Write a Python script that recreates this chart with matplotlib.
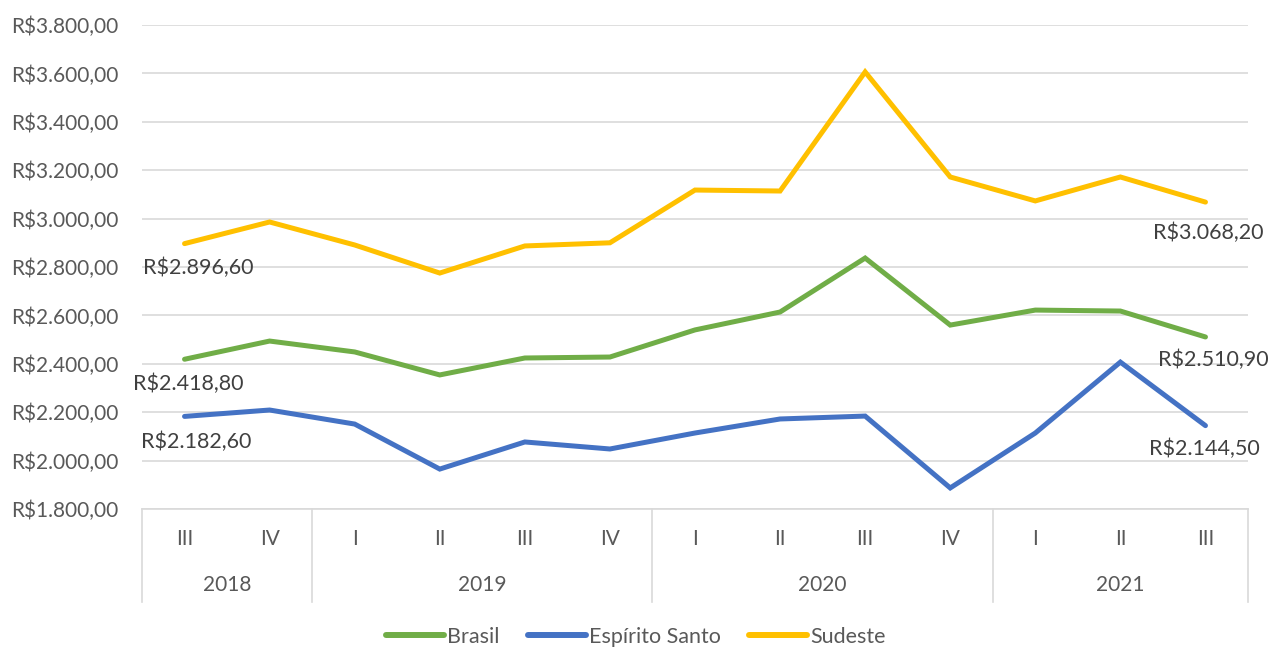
import numpy as np
import matplotlib
matplotlib.use("Agg")
import matplotlib.pyplot as plt
from matplotlib.ticker import FuncFormatter
import matplotlib.transforms as mtransforms

plt.rcParams['font.family'] = ['Lato', 'DejaVu Sans']

quarters = ['III', 'IV', 'I', 'II', 'III', 'IV', 'I', 'II', 'III', 'IV', 'I', 'II', 'III']
years = ['2018', '2019', '2020', '2021']
year_counts = [2, 4, 4, 3]

brasil = [2418.8, 2494, 2449, 2354, 2424, 2428, 2540, 2614, 2837, 2560, 2622, 2618, 2510.9]
espirito_santo = [2182.6, 2209, 2151, 1965, 2077, 2048, 2114, 2172, 2184, 1887, 2114, 2407, 2144.5]
sudeste = [2896.6, 2986, 2891, 2775, 2887, 2900, 3118, 3114, 3606, 3172, 3073, 3172, 3068.2]

series = [('Brasil', brasil, '#70AD47'),
          ('Espírito Santo', espirito_santo, '#4472C4'),
          ('Sudeste', sudeste, '#FFC000')]

text_color = '#595959'
fs = 15


def brl(v):
    s = f"{v:,.2f}"
    return "R$" + s.replace(",", "X").replace(".", ",").replace("X", ".")


fig = plt.figure(figsize=(12.71, 6.47), dpi=100)
ax = fig.add_axes([142 / 1271, 1 - 509 / 647, 1106 / 1271, 484 / 647])

x = np.arange(len(quarters))
for name, vals, col in series:
    ax.plot(x, vals, color=col, lw=3.6, label=name, solid_capstyle='round',
            solid_joinstyle='miter')

ax.set_xlim(-0.5, len(quarters) - 0.5)
ax.set_ylim(1800, 3800)
ax.set_yticks(np.arange(1800, 3801, 200))
ax.yaxis.set_major_formatter(FuncFormatter(lambda v, p: brl(v)))
ax.tick_params(axis='y', length=0, labelsize=fs, labelcolor=text_color, pad=17)
ax.set_xticks([])
ax.grid(axis='y', color='#d9d9d9', lw=1.2)
ax.set_axisbelow(True)
for s in ['top', 'right', 'left']:
    ax.spines[s].set_visible(False)
ax.spines['bottom'].set_color('#d9d9d9')
ax.spines['bottom'].set_linewidth(1.2)

# two-level category axis
trans = mtransforms.blended_transform_factory(ax.transData, ax.transAxes)
for i, q in enumerate(quarters):
    ax.text(i, -0.063, q, transform=trans, ha='center', va='center',
            fontsize=fs, color=text_color)
edges = np.concatenate([[0], np.cumsum(year_counts)]) - 0.5
for k, yr in enumerate(years):
    mid = (edges[k] + edges[k + 1]) / 2
    ax.text(mid, -0.158, yr, transform=trans, ha='center', va='center',
            fontsize=fs, color=text_color)
for e in edges:
    ax.plot([e, e], [0, -0.192], transform=trans, color='#d9d9d9', lw=1.2,
            clip_on=False)

# data labels on first and last points
offsets = {'Brasil': [(4, -25), (8, -23)],
           'Espírito Santo': [(12, -25), (-1, -23)],
           'Sudeste': [(14, -24), (3, -31)]}
for name, vals, col in series:
    for (idx, off) in zip([0, len(vals) - 1], offsets[name]):
        ax.annotate(brl(vals[idx]), (x[idx], vals[idx]), xytext=off,
                    textcoords='offset pixels', ha='center', va='center',
                    fontsize=fs + 0.5, color='#404040')

leg = fig.legend(loc='center', bbox_to_anchor=(636 / 1271, 1 - 637 / 647), ncol=3,
                 frameon=False, fontsize=fs + 0.5, handlelength=2.7, handletextpad=0.15,
                 columnspacing=1.3)
for line in leg.get_lines():
    line.set_linewidth(4.3)
for t in leg.get_texts():
    t.set_color(text_color)

fig.savefig('out.png', dpi=100)
